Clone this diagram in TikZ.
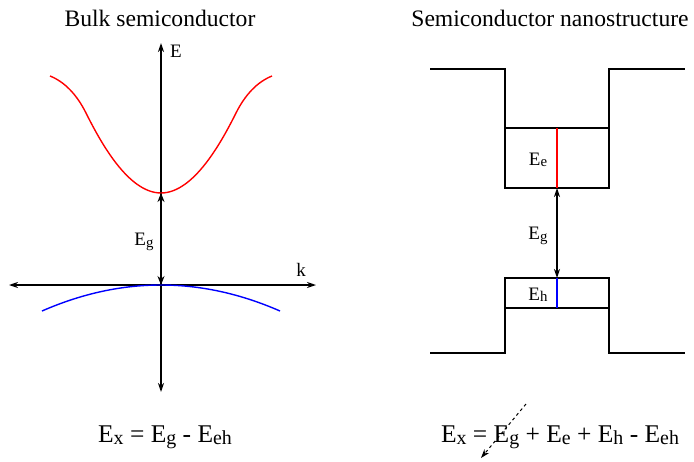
\documentclass[tikz,border=0pt]{standalone}
\usepackage{fontspec}
\setmainfont{Liberation Serif}
\usepackage{graphicx}
\usetikzlibrary{arrows.meta}
\newcommand\sbs[1]{\raisebox{-0.08em}{\scalebox{0.78}{#1}}}
\tikzset{
  axis/.style={line width=1.3pt,{Stealth[length=9pt,width=6pt]}-{Stealth[length=9pt,width=6pt]}},
  gap/.style={line width=2.2pt,{Stealth[length=9pt,width=7pt]}-{Stealth[length=9pt,width=7pt]}},
  thin gap/.style={line width=1.3pt,{Stealth[length=9pt,width=6pt]}-{Stealth[length=9pt,width=6pt]}},
  wall/.style={line width=1.4pt},
  band/.style={line width=1.4pt},
  title/.style={font=\fontsize{23.6}{27}\selectfont},
  lbl/.style={font=\fontsize{19}{22}\selectfont},
  formula/.style={font=\fontsize{25.5}{30}\selectfont},
  hint/.style={line width=1pt,dashed,-{Stealth[length=9pt,width=6pt]}}
}
\begin{document}
\begin{tikzpicture}[x=1pt,y=-1pt]
\useasboundingbox (0,0) rectangle (694,461);
% ---------- left: bulk ----------
\node[title] (t1) at (160,18) {Bulk semiconductor};
\coordinate (Etop) at (161,43);
\coordinate (Ebot) at (161,392);
\coordinate (kL) at (9,285);
\coordinate (kR) at (316,285);
\coordinate (O) at (161,285);
\coordinate (cmin) at (161,193);
\draw[axis] (Ebot) -- (Etop);
\draw[axis] (kL) -- (kR);
\node[lbl] (Elab) at (176,51) {E};
\node[lbl] (klab) at (301,270) {k};
% conduction band
\draw[band,red] (50,76) .. controls (65,82) and (77,95) .. (86,113)
  .. controls (100,141) and (128,193) .. (cmin)
  .. controls (194,193) and (222,141) .. (236,113)
  .. controls (245,95) and (257,82) .. (272,76);
% valence band (parabola)
\draw[band,blue] (42,311) .. controls (81.67,293.67) and (121.33,285) .. (O)
  .. controls (200.67,285) and (240.33,293.67) .. (280,311);
\draw[gap] (cmin) -- (O);
\node[lbl] (Eg1) at (144,242) {E\sbs{g}};
\node[formula] (f1) at (165,437) {E\sbs{x} = E\sbs{g} - E\sbs{eh}};
% ---------- right: nanostructure ----------
\node[title] (t2) at (550,18) {Semiconductor nanostructure};
\draw[wall] (430,69) -- (505,69) -- (505,188) -- (609,188) -- (609,69) -- (685,69);
\draw[wall] (505,128) -- (609,128);
\draw[wall] (430,353) -- (505,353) -- (505,278) -- (609,278) -- (609,353) -- (685,353);
\draw[wall] (505,308) -- (609,308);
\coordinate (eT) at (557,128);
\coordinate (eB) at (557,188);
\coordinate (hT) at (557,278);
\coordinate (hB) at (557,308);
\draw[band,red] (eT) -- (eB);
\draw[band,blue] (hT) -- (hB);
\draw[thin gap] (eB) -- (hT);
\node[lbl] (Ee) at (538,160) {E\sbs{e}};
\node[lbl] (Eg2) at (538,236) {E\sbs{g}};
\node[lbl] (Eh) at (538,295) {E\sbs{h}};
\node[formula] (f2) at (560,437) {E\sbs{x} = E\sbs{g} + E\sbs{e} + E\sbs{h} - E\sbs{eh}};
\coordinate (dA) at (526,404);
\coordinate (dB) at (481,458);
\draw[hint] (dA) -- (dB);
\end{tikzpicture}
\end{document}
